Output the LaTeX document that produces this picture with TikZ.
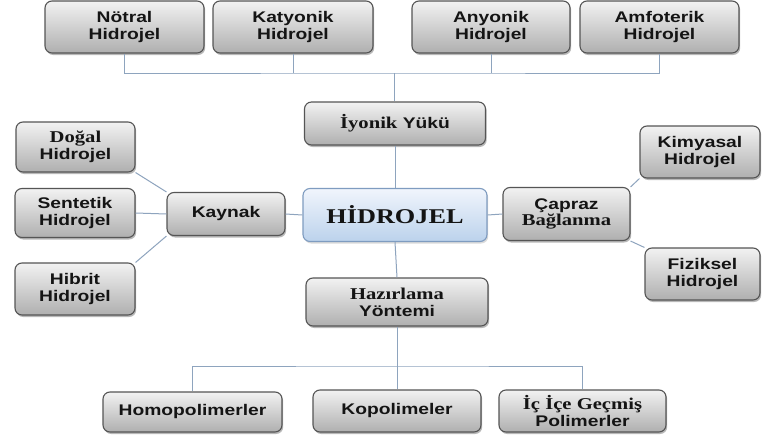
\documentclass[tikz,border=0pt]{standalone}
\usepackage{fontspec}
\usepackage{graphicx}
\usetikzlibrary{shadows}
\newfontfamily\sansf[FakeStretch=1.25]{Liberation Sans}
\newfontfamily\seriff[FakeStretch=1.25]{Liberation Serif}
\newcommand\sv[1]{{\seriff\bfseries\fontsize{16.5}{16.5}\selectfont #1}}
\definecolor{linec}{HTML}{8EA4BE}
\definecolor{boxborder}{HTML}{555555}
\definecolor{boxtop}{HTML}{F2F2F2}
\definecolor{boxbot}{HTML}{AFAFAF}
\definecolor{blutop}{HTML}{F0F5FC}
\definecolor{blubot}{HTML}{BCD2EC}
\definecolor{bluborder}{HTML}{7F9CC0}
\definecolor{txt}{HTML}{141414}
\tikzset{
  gbox/.style={draw=boxborder, line width=1.1pt, rounded corners=7pt,
    top color=boxtop, bottom color=boxbot, inner sep=0pt, align=center,
    text=txt, font=\sansf\bfseries\fontsize{15.4}{16.8}\selectfont,
    drop shadow={shadow xshift=1.2pt, shadow yshift=-2pt, fill=black!55, opacity=0.5}},
  cbox/.style={draw=bluborder, line width=1.1pt, rounded corners=7pt,
    top color=blutop, bottom color=blubot, inner sep=0pt, align=center,
    text=txt, font=\seriff\bfseries\fontsize{21}{22}\selectfont,
    drop shadow={shadow xshift=1.2pt, shadow yshift=-2pt, fill=black!40, opacity=0.35}},
  conn/.style={draw=linec, line width=1pt}
}
\begin{document}
\begin{tikzpicture}[x=1pt,y=-1pt]
\fill[white] (0,0) rectangle (763,439);
\useasboundingbox (0,0) rectangle (763,439);
% top row
\node[gbox, minimum width=159pt, minimum height=52pt] (notral) at (124.5,27) {Nötral\\Hidrojel};
\node[gbox, minimum width=160pt, minimum height=52pt] (katyonik) at (293,27) {Katyonik\\Hidrojel};
\node[gbox, minimum width=158pt, minimum height=52pt] (anyonik) at (491,27) {Anyonik\\Hidrojel};
\node[gbox, minimum width=159pt, minimum height=52pt] (amfoterik) at (659.5,27) {Amfoterik\\Hidrojel};
% middle
\node[gbox, minimum width=181pt, minimum height=43pt] (iyonik) at (395,123.5) {\sv{İyonik} Yükü};
\node[gbox, minimum width=119pt, minimum height=50pt] (dogal) at (75.5,147) {\sv{Doğal}\\Hidrojel};
\node[gbox, minimum width=120pt, minimum height=49pt] (sentetik) at (75,213) {Sentetik\\Hidrojel};
\node[gbox, minimum width=120pt, minimum height=52pt] (hibrit) at (75,289) {Hibrit\\Hidrojel};
\node[gbox, minimum width=118pt, minimum height=43pt] (kaynak) at (226,214) {Kaynak};
\node[cbox, minimum width=184pt, minimum height=53pt] (hidrojel) at (395,215) {HİDROJEL};
\node[gbox, minimum width=127pt, minimum height=53pt] (capraz) at (566.5,214) {Çapraz\\\sv{Bağlanma}};
\node[gbox, minimum width=120pt, minimum height=52pt] (kimyasal) at (700,152) {Kimyasal\\Hidrojel};
\node[gbox, minimum width=115pt, minimum height=52pt] (fiziksel) at (702.5,274) {Fiziksel\\Hidrojel};
\node[gbox, minimum width=182pt, minimum height=48pt] (hazirlama) at (397,302) {\sv{Hazırlama}\\Yöntemi};
% bottom row
\node[gbox, minimum width=179pt, minimum height=40pt] (homo) at (192.5,412) {Homopolimerler};
\node[gbox, minimum width=168pt, minimum height=42pt] (kopo) at (397,411) {Kopolimeler};
\node[gbox, minimum width=167pt, minimum height=42pt] (icice) at (582.5,411) {\sv{İç İçe Geçmiş}\\Polimerler};
% connectors
\coordinate (bt) at (394,73);
\coordinate (bb) at (397,366);
\draw[conn] (notral.south) |- (bt) -| (amfoterik.south);
\draw[conn] (katyonik.south) -- (katyonik.south |- bt);
\draw[conn] (anyonik.south) -- (anyonik.south |- bt);
\draw[conn] (bt) -- (bt |- iyonik.north);
\draw[conn] (iyonik.south) -- (hidrojel.north);
\draw[conn] (kaynak.east) -- (hidrojel.west);
\draw[conn] (hidrojel.east) -- (capraz.west);
\draw[conn] (sentetik.east) -- (kaynak.west);
\draw[conn] (dogal.south east) -- (kaynak.north west);
\draw[conn] (hibrit.north east) -- (kaynak.south west);
\draw[conn] (capraz.north east) -- (kimyasal.south west);
\draw[conn] (capraz.south east) -- (fiziksel.north west);
\draw[conn] (hidrojel.south) -- (hazirlama.north);
\draw[conn] (hazirlama.south) -- (kopo.north);
\draw[conn] (homo.north) |- (bb) -| (icice.north);
\end{tikzpicture}
\end{document}
